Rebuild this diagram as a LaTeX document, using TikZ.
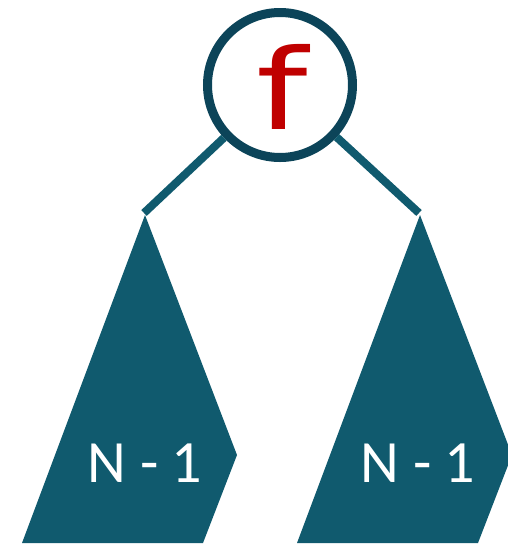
\documentclass[tikz,border=0pt]{standalone}
\usepackage{fontspec}
\usepackage{graphicx}
\setmainfont{Carlito}
\newfontfamily\ffont{DejaVu Sans}
\definecolor{tealfill}{HTML}{105A6E}
\definecolor{tealdark}{HTML}{0C4459}
\definecolor{fred}{HTML}{C00000}
\begin{document}
\begin{tikzpicture}[x=1pt,y=-1pt,
  subtree/.style={fill=tealfill,draw=none},
  edge/.style={draw=tealfill,line width=8pt},
  lbl/.style={text=white,font=\fontsize{60}{60}\selectfont,inner sep=0pt}]
\useasboundingbox (0,0) rectangle (508,547);
\node[circle,draw=tealdark,line width=9pt,fill=white,minimum size=145pt,inner sep=0pt] (f) at (280,85) {};
\node[text=fred,font=\ffont\fontsize{112}{112}\selectfont,inner sep=0pt] (flbl) at (282,87) {\scalebox{1.3}[1]{f}};
\coordinate (ltop) at (144,213);
\coordinate (rtop) at (419,213);
\draw[edge] (f) -- (ltop);
\draw[edge] (f) -- (rtop);
\fill[subtree] (145,215) -- (237,455) -- (203,543) -- (22,543) -- cycle;
\fill[subtree] (420,215) -- (512,455) -- (478,543) -- (297,543) -- cycle;
\node[lbl] (l1) at (145,463) {N - 1};
\node[lbl] (l2) at (418,463) {N - 1};
\end{tikzpicture}
\end{document}
